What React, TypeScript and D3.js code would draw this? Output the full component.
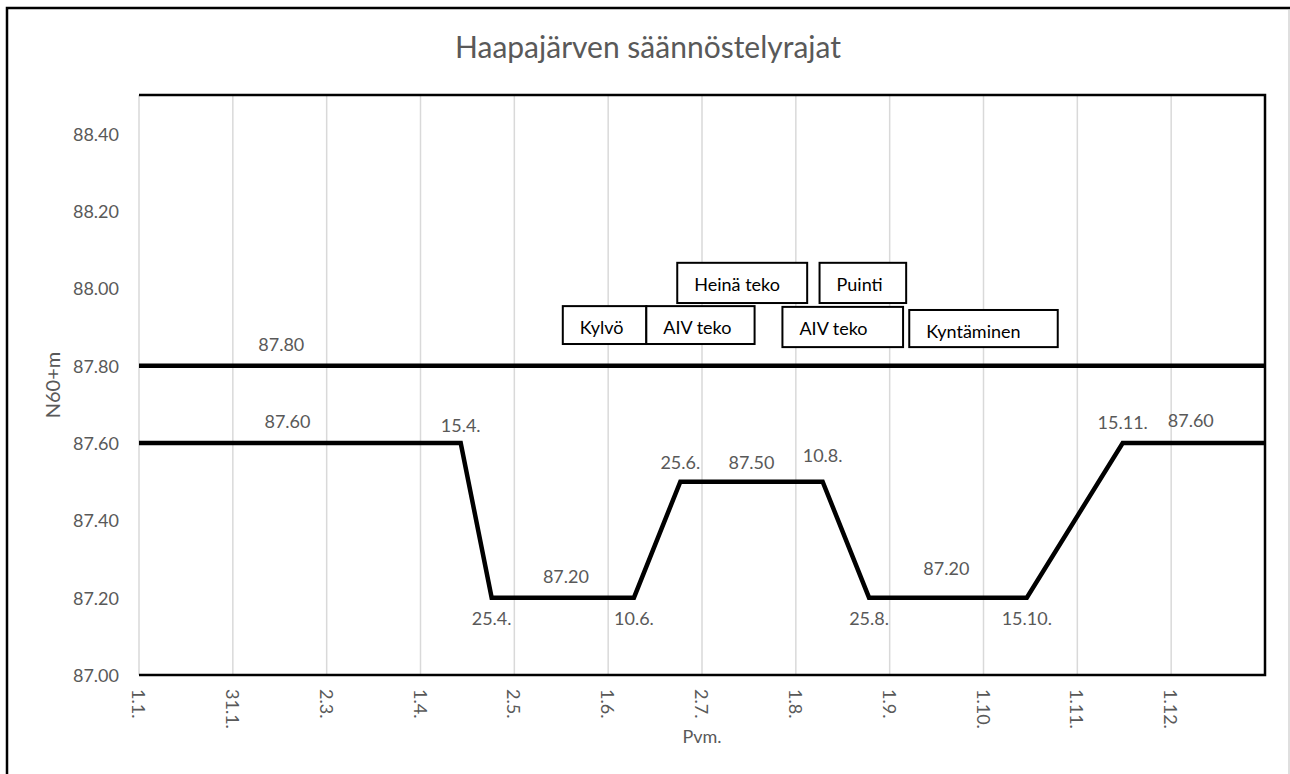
import React from 'react';
import * as d3 from 'd3';

// x axis tick labels (12 equal steps over the year)
const tickLabels = ['1.1.', '31.1.', '2.3.', '1.4.', '2.5.', '1.6.', '2.7.', '1.8.', '1.9.', '1.10.', '1.11.', '1.12.'];
const yTicks = [87.0, 87.2, 87.4, 87.6, 87.8, 88.0, 88.2, 88.4];

// regulation limits
const upperDates = ['1.1.', '31.12.'];
const upperLevels = [87.8, 87.8];
const lowerDates = ['1.1.', '15.4.', '25.4.', '10.6.', '25.6.', '10.8.', '25.8.', '15.10.', '15.11.', '31.12.'];
const lowerLevels = [87.6, 87.6, 87.2, 87.2, 87.5, 87.5, 87.2, 87.2, 87.6, 87.6];

// labels on the lines: text, date, level, offset of baseline from line
const levelLabels = ['87.80', '87.60', '87.20', '87.50', '87.20', '87.60'];
const levelLabelDates = ['16.2.', '18.2.', '19.5.', '18.7.', '19.9.', '7.12.'];
const levelLabelLevels = [87.8, 87.6, 87.2, 87.5, 87.2, 87.6];
const levelLabelDy = [-15, -15, -15, -13, -23, -16];

const dateLabelDy = [-11, 27, 27, -13, -20, 27, 27, -14]; // for lowerDates[1..8]

// activity boxes
const boxLabels = ['Heinä teko', 'Puinti', 'Kylvö', 'AIV teko', 'AIV teko', 'Kyntäminen'];
const boxStart = ['24.6.', '9.8.', '18.5.', '14.6.', '28.7.', '7.9.'];
const boxEnd = ['5.8.', '6.9.', '14.6.', '19.7.', '5.9.', '25.10.'];
const boxTop = [88.066, 88.066, 87.954, 87.954, 87.952, 87.944];
const boxBottom = [87.962, 87.962, 87.856, 87.856, 87.848, 87.848];

const W = 1290;
const H = 774;
const margin = { left: 139, right: 25, top: 95, bottom: 99 };
const font = 'Lato, "Liberation Sans", sans-serif';
const grey = '#595959';

const dayOf = (s: string) => {
  const [d, m] = s.split('.').map(Number);
  return d3.timeDay.count(new Date(2023, 0, 1), new Date(2023, m - 1, d));
};

export default function App() {
  const x = d3.scaleLinear().domain([0, 364]).range([margin.left, W - margin.right]);
  const y = d3.scaleLinear().domain([87, 88.5]).range([H - margin.bottom, margin.top]);
  const xTicks = d3.range(13).map(i => (364 * i) / 12);

  const line = d3.line<[number, number]>().x(d => x(d[0])).y(d => y(d[1]));
  const upper = line(upperDates.map((d, i) => [dayOf(d), upperLevels[i]]));
  const lower = line(lowerDates.map((d, i) => [dayOf(d), lowerLevels[i]]));

  const [x0, x1] = x.range();
  const [yb, yt] = y.range();

  return (
    <svg width={W} height={H} style={{ position: 'absolute', left: 0, top: 0, background: '#fff' }} fontFamily={font}>
      <rect x={7} y={8} width={1400} height={900} fill="#fff" stroke="#000" strokeWidth={2.5} />
      <line x1={1289} x2={1289} y1={9} y2={H} stroke="#bfbfbf" strokeWidth={1} />

      <text x={(x0 + x1) / 2 - 54} y={58} textAnchor="middle" fontSize={30} fill={grey}>
        Haapajärven säännöstelyrajat
      </text>

      {xTicks.map((t, i) => (
        <line key={i} x1={x(t)} x2={x(t)} y1={yt} y2={yb} stroke="#d9d9d9" strokeWidth={1.5} />
      ))}
      <path d={`M${x0},${yt}H${x1}V${yb}H${x0}`} fill="none" stroke="#000" strokeWidth={2.5} />

      {yTicks.map(t => (
        <text key={t} x={x0 - 20} y={y(t)} textAnchor="end" dominantBaseline="central" fontSize={18} fill={grey}>
          {t.toFixed(2)}
        </text>
      ))}
      {tickLabels.map((l, i) => (
        <text key={l} transform={`translate(${x(xTicks[i])},${yb + 14}) rotate(90)`} dominantBaseline="central" fontSize={18} fill={grey}>
          {l}
        </text>
      ))}
      <text x={(x0 + x1) / 2} y={743} textAnchor="middle" fontSize={18} fill={grey}>Pvm.</text>
      <text transform={`translate(52,${(yt + yb) / 2}) rotate(-90)`} textAnchor="middle" dominantBaseline="central" fontSize={20} fill={grey}>
        N60+m
      </text>

      <path d={upper ?? ''} fill="none" stroke="#000" strokeWidth={4.5} />
      <path d={lower ?? ''} fill="none" stroke="#000" strokeWidth={4.5} />

      {levelLabels.map((l, i) => (
        <text key={'ll' + i} x={x(dayOf(levelLabelDates[i]))} y={y(levelLabelLevels[i]) + levelLabelDy[i]} textAnchor="middle" fontSize={18} fill={grey}>
          {l}
        </text>
      ))}
      {lowerDates.slice(1, 9).map((d, i) => (
        <text key={'dl' + i} x={x(dayOf(d))} y={y(lowerLevels[i + 1]) + dateLabelDy[i]} textAnchor="middle" fontSize={18} fill={grey}>
          {d}
        </text>
      ))}

      {boxLabels.map((l, i) => {
        const bx = x(dayOf(boxStart[i]));
        const by = y(boxTop[i]);
        return (
          <g key={'b' + i}>
            <rect x={bx} y={by} width={x(dayOf(boxEnd[i])) - bx} height={y(boxBottom[i]) - by} fill="#fff" stroke="#000" strokeWidth={2} />
            <text x={bx + 17} y={by + 28} fontSize={18} fill="#000">{l}</text>
          </g>
        );
      })}
    </svg>
  );
}
